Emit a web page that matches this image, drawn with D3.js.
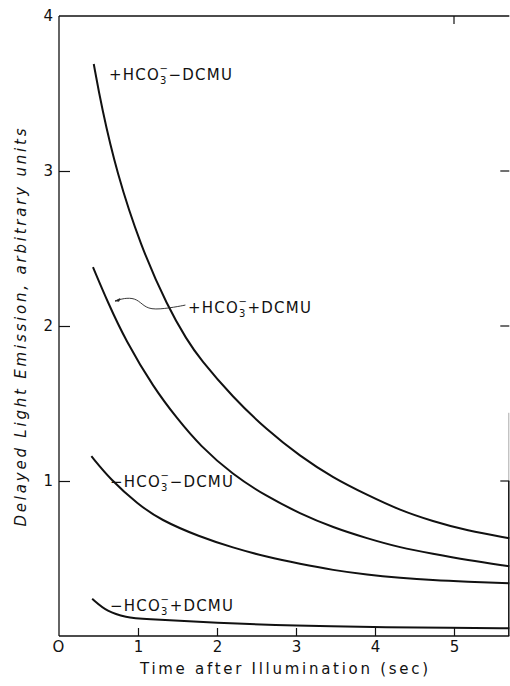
<!DOCTYPE html>
<html>
<head>
<meta charset="utf-8">
<script src="https://cdn.jsdelivr.net/npm/d3@7/dist/d3.min.js"></script>
<style>
  html, body { margin: 0; padding: 0; background: #fff; }
  svg { display: block; }
  text { font-family: "DejaVu Sans", sans-serif; fill: #111; }
</style>
</head>
<body>
<svg id="chart" width="510" height="686"></svg>
<script>
// Delayed light emission decay curves (arbitrary units) vs time after illumination (s)
const tPlusMinus = [0.44, 0.54, 0.73, 1.03, 1.38, 1.62, 1.78, 2.20, 2.63, 3.05, 3.47, 3.90, 4.32, 4.73, 5.16, 5.70];
const vPlusMinus = [3.69, 3.41, 2.99, 2.52, 2.12, 1.91, 1.79, 1.54, 1.33, 1.16, 1.02, 0.91, 0.81, 0.74, 0.68, 0.63];

const tPlusPlus = [0.43, 0.62, 0.84, 1.20, 1.50, 1.78, 2.20, 2.63, 3.05, 3.47, 3.90, 4.32, 4.73, 5.16, 5.70];
const vPlusPlus = [2.38, 2.15, 1.91, 1.60, 1.40, 1.23, 1.04, 0.90, 0.79, 0.70, 0.63, 0.57, 0.53, 0.49, 0.45];

const tMinusMinus = [0.41, 0.65, 1.00, 1.28, 1.78, 2.20, 2.63, 3.05, 3.47, 3.90, 4.32, 4.73, 5.16, 5.70];
const vMinusMinus = [1.16, 1.01, 0.85, 0.75, 0.64, 0.57, 0.51, 0.465, 0.425, 0.395, 0.375, 0.36, 0.35, 0.34];

const tMinusPlus = [0.42, 0.61, 0.86, 1.03, 2.00, 3.01, 3.97, 4.99, 5.70];
const vMinusPlus = [0.24, 0.155, 0.12, 0.11, 0.084, 0.065, 0.058, 0.052, 0.05];

const xTicks = [0, 1, 2, 3, 4, 5];
const yTicks = [1, 2, 3, 4];
const xTitle = "Time after Illumination (sec)";
const yTitle = "Delayed Light Emission, arbitrary units";

// curve labels: sign of HCO3-, sign of DCMU, anchor (t, v) of the text baseline start
const labelSigns = [["+", "\u2212"], ["+", "+"], ["\u2212", "\u2212"], ["\u2212", "+"]];
const labelT = [0.633, 1.633, 0.646, 0.646];
const labelV = [3.587, 2.084, 0.961, 0.161];

// wavy pointer from the "+HCO3- +DCMU" label to its curve
const pointerT = [1.60, 1.405, 1.152, 1.05, 0.962, 0.823, 0.709];
const pointerV = [2.135, 2.116, 2.103, 2.142, 2.18, 2.18, 2.161];

const svg = d3.select("#chart");
const x = d3.scaleLinear().domain([0, 5]).range([59, 454]);
const y = d3.scaleLinear().domain([0, 4]).range([636, 16]);
const xEnd = 5.7;

// frame
const frame = svg.append("g").attr("stroke", "#111").attr("fill", "none");
frame.append("line").attr("x1", x(0)).attr("x2", x(0)).attr("y1", y(4)).attr("y2", y(0)).attr("stroke-width", 1.3);
frame.append("line").attr("x1", x(0)).attr("x2", x(xEnd)).attr("y1", y(0)).attr("y2", y(0)).attr("stroke-width", 1.3);
frame.append("line").attr("x1", x(0)).attr("x2", x(xEnd)).attr("y1", y(4)).attr("y2", y(4)).attr("stroke-width", 1.3);
frame.append("line").attr("x1", x(xEnd) - 0.5).attr("x2", x(xEnd) - 0.5).attr("y1", y(1.44)).attr("y2", y(1)).attr("stroke", "#aaa").attr("stroke-width", 1);
frame.append("line").attr("x1", x(xEnd) - 0.5).attr("x2", x(xEnd) - 0.5).attr("y1", y(1)).attr("y2", y(0)).attr("stroke-width", 1.5);

// bottom axis, ticks pointing into the plot
const xAxis = d3.axisBottom(x).tickValues(xTicks).tickSizeInner(-8).tickSizeOuter(0).tickPadding(5)
  .tickFormat(d => d === 0 ? "O" : d3.format("d")(d));
const gx = svg.append("g").attr("transform", `translate(0,${y(0)})`).call(xAxis);
gx.select(".domain").remove();
gx.selectAll("line").attr("stroke", "#111").attr("stroke-width", 1.2);
gx.selectAll("text").attr("font-size", 15).attr("font-family", "DejaVu Sans, sans-serif").attr("fill", "#111");
gx.selectAll(".tick").filter(d => d === 0).select("line").remove();
gx.selectAll(".tick").filter(d => d === 0).select("text").attr("dx", -1);

// left axis
const yAxis = d3.axisLeft(y).tickValues(yTicks).tickSizeInner(-11).tickSizeOuter(0).tickPadding(6)
  .tickFormat(d3.format("d"));
const gy = svg.append("g").attr("transform", `translate(${x(0)},0)`).call(yAxis);
gy.select(".domain").remove();
gy.selectAll("line").attr("stroke", "#111").attr("stroke-width", 1.2);
gy.selectAll("text").attr("font-size", 15).attr("font-family", "DejaVu Sans, sans-serif").attr("fill", "#111");
gy.selectAll(".tick").filter(d => d === 4).select("line").remove();

// right-hand ticks and a top tick at 5 s
const gr = svg.append("g").attr("stroke", "#111").attr("stroke-width", 1.2);
gr.selectAll("line.r").data([1, 2, 3]).join("line")
  .attr("x1", x(xEnd) - 9).attr("x2", x(xEnd)).attr("y1", d => y(d)).attr("y2", d => y(d));
gr.append("line").attr("x1", x(5)).attr("x2", x(5)).attr("y1", y(4)).attr("y2", y(4) + 8);

// decay curves
const series = [
  [tPlusMinus, vPlusMinus],
  [tPlusPlus, vPlusPlus],
  [tMinusMinus, vMinusMinus],
  [tMinusPlus, vMinusPlus]
];
const line = d3.line().x(d => x(d[0])).y(d => y(d[1])).curve(d3.curveBasis);
svg.append("g").selectAll("path").data(series).join("path")
  .attr("d", s => line(s[0].map((t, i) => [t, s[1][i]])))
  .attr("fill", "none").attr("stroke", "#111").attr("stroke-width", 2);

// curve labels with stacked subscript 3 and superscript minus
labelSigns.forEach((sg, i) => {
  const t = svg.append("text")
    .attr("x", x(labelT[i])).attr("y", y(labelV[i]))
    .attr("font-size", 15).attr("letter-spacing", 1.2);
  t.append("tspan").text(sg[0] + "HCO");
  t.append("tspan").attr("font-size", 10).attr("dy", 4).text("3");
  t.append("tspan").attr("font-size", 10).attr("dx", -8).attr("dy", -12).text("\u2212");
  t.append("tspan").attr("dy", 8).attr("dx", -0.5).text(sg[1] + "DCMU");
});

// pointer
const pointer = pointerT.map((t, i) => [t, pointerV[i]]);
svg.append("path")
  .attr("d", d3.line().x(d => x(d[0])).y(d => y(d[1])).curve(d3.curveBasis)(pointer))
  .attr("fill", "none").attr("stroke", "#222").attr("stroke-width", 0.9);
const tip = pointer[pointer.length - 1];
svg.append("path")
  .attr("d", `M${x(tip[0])},${y(tip[1])} l5,-2.5 l-1,2.8 z`)
  .attr("fill", "#222").attr("stroke", "#222").attr("stroke-width", 0.6);

// axis titles
svg.append("text")
  .attr("x", 284).attr("y", 674)
  .attr("text-anchor", "middle").attr("font-size", 15)
  .attr("textLength", 288).attr("lengthAdjust", "spacing")
  .text(xTitle);
svg.append("text")
  .attr("transform", `translate(26,${(128 + 527) / 2}) rotate(-90)`)
  .attr("text-anchor", "middle").attr("font-size", 15).attr("font-style", "italic")
  .attr("textLength", 398).attr("lengthAdjust", "spacing")
  .text(yTitle);
</script>
</body>
</html>
